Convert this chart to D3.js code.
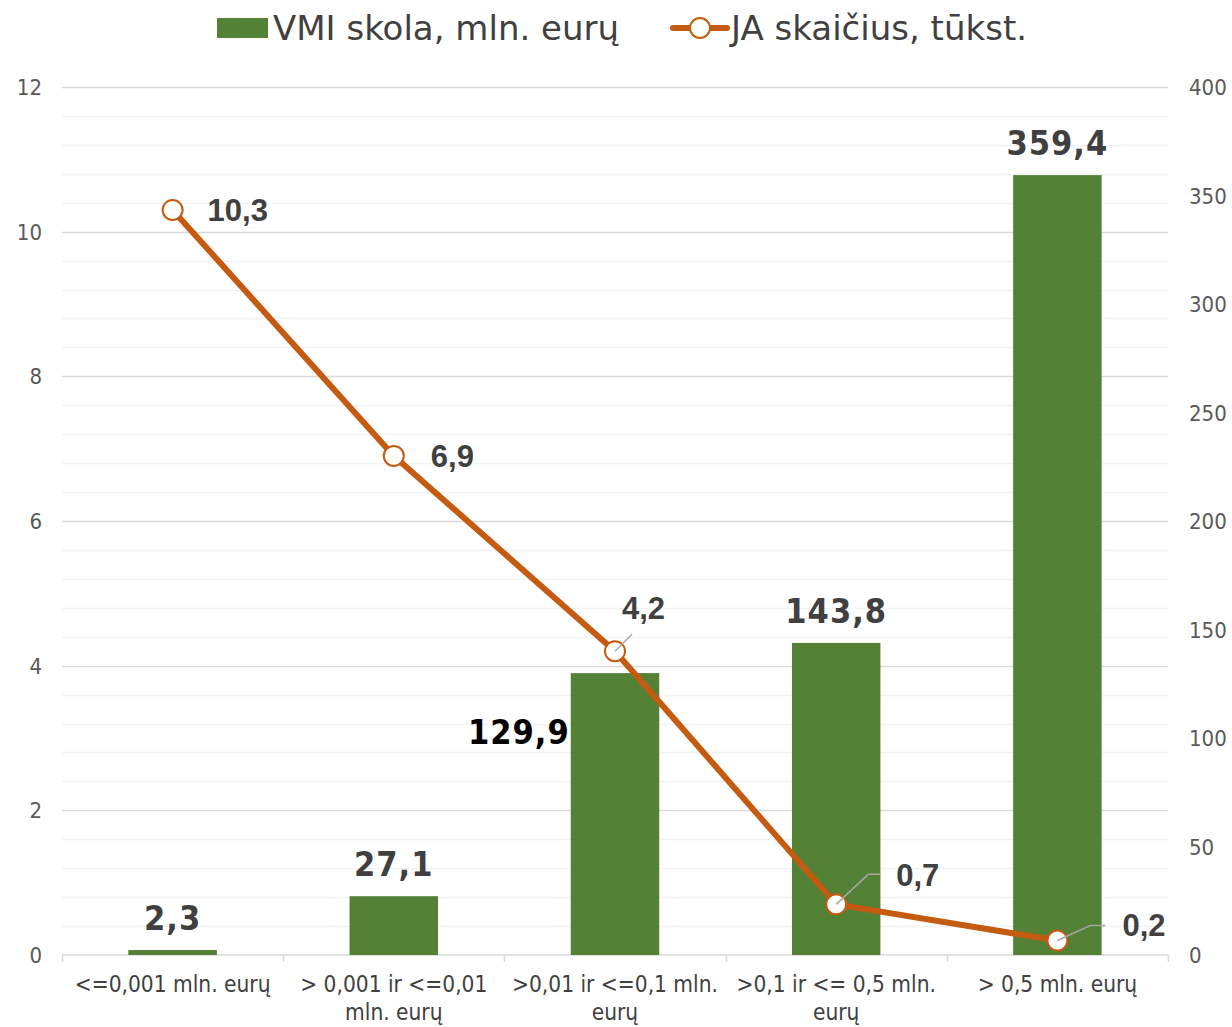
<!DOCTYPE html>
<html lang="lt">
<head>
    <meta charset="UTF-8">
    <title>VMI skola ir JA skaičius</title>
    <style>
        body {
            margin: 0;
            background-color: #FFFFFF;
        }
        svg text {
            font-family: "DejaVu Sans Condensed", "DejaVu Sans", sans-serif;
        }
        svg text.legend-text {
            font-family: "DejaVu Sans", sans-serif;
        }
        svg text.line-label {
            font-family: "Liberation Sans", Arial, sans-serif;
        }
    </style>
</head>
<body>
    <div id="chart"></div>

    <script src="https://d3js.org/d3.v7.min.js"></script>
    <script>
        // Data
        const categories = [
            "<=0,001 mln. eurų",
            "> 0,001 ir <=0,01 mln. eurų",
            ">0,01 ir <=0,1 mln. eurų",
            ">0,1 ir <= 0,5 mln. eurų",
            "> 0,5 mln. eurų"
        ];
        const debtValues = [2.3, 27.1, 129.9, 143.8, 359.4];   // VMI skola, mln. eurų (right axis)
        const countValues = [10.3, 6.9, 4.2, 0.7, 0.2];        // JA skaičius, tūkst. (left axis)
        const leftTicks = [0, 2, 4, 6, 8, 10, 12];
        const rightTicks = [0, 50, 100, 150, 200, 250, 300, 350, 400];
        const seriesNames = ["VMI skola, mln. eurų", "JA skaičius, tūkst."];

        const width = 1232;
        const height = 1027;
        const margin = { top: 87, right: 64, bottom: 72, left: 62 };
        const barColor = "#538135";
        const lineColor = "#C55A11";
        const fmt = d => String(d).replace(".", ",");

        const svg = d3.select("#chart")
            .append("svg")
            .attr("width", width)
            .attr("height", height);

        const x = d3.scaleBand()
            .domain(categories)
            .range([margin.left, width - margin.right]);

        const yLeft = d3.scaleLinear()
            .domain([0, 12])
            .range([height - margin.bottom, margin.top]);

        const yRight = d3.scaleLinear()
            .domain([0, 400])
            .range([height - margin.bottom, margin.top]);

        // Minor gridlines (every 0.4 on left axis)
        const minorTicks = d3.range(0, 12.0001, 0.4).filter(v => Math.abs(v / 2 - Math.round(v / 2)) > 0.01);
        svg.append("g")
            .selectAll("line")
            .data(minorTicks)
            .join("line")
            .attr("x1", margin.left)
            .attr("x2", width - margin.right)
            .attr("y1", d => Math.round(yLeft(d)) + 0.5)
            .attr("y2", d => Math.round(yLeft(d)) + 0.5)
            .attr("stroke", "#F2F2F2")
            .attr("stroke-width", 1.5);

        // Major gridlines
        svg.append("g")
            .selectAll("line")
            .data(leftTicks.filter(d => d > 0))
            .join("line")
            .attr("x1", margin.left)
            .attr("x2", width - margin.right)
            .attr("y1", d => Math.round(yLeft(d)) + 0.5)
            .attr("y2", d => Math.round(yLeft(d)) + 0.5)
            .attr("stroke", "#D9D9D9")
            .attr("stroke-width", 1.5);

        // Left axis labels
        svg.append("g")
            .selectAll("text")
            .data(leftTicks)
            .join("text")
            .attr("x", 42)
            .attr("y", d => yLeft(d) + 8)
            .attr("text-anchor", "end")
            .attr("font-size", "22px")
            .attr("fill", "#595959")
            .text(d => d);

        // Right axis labels
        svg.append("g")
            .selectAll("text")
            .data(rightTicks)
            .join("text")
            .attr("x", 1189)
            .attr("y", d => yRight(d) + 8)
            .attr("text-anchor", "start")
            .attr("font-size", "22px")
            .attr("fill", "#595959")
            .text(d => d);

        // Bottom axis
        const xAxis = svg.append("g")
            .attr("transform", `translate(0,${height - margin.bottom})`);
        xAxis.append("line")
            .attr("x1", margin.left)
            .attr("x2", width - margin.right)
            .attr("stroke", "#D9D9D9")
            .attr("stroke-width", 1.5);
        const boundaries = categories.map(c => x(c)).concat([width - margin.right]);
        xAxis.selectAll(".tick-mark")
            .data(boundaries)
            .join("line")
            .attr("class", "tick-mark")
            .attr("x1", d => Math.round(d) + 0.5)
            .attr("x2", d => Math.round(d) + 0.5)
            .attr("y1", 0)
            .attr("y2", 7)
            .attr("stroke", "#D9D9D9")
            .attr("stroke-width", 1.5);

        // Category labels, wrapped
        const catLabels = xAxis.selectAll(".cat")
            .data(categories)
            .join("text")
            .attr("class", "cat")
            .attr("x", d => x(d) + x.bandwidth() / 2)
            .attr("y", 37)
            .attr("text-anchor", "middle")
            .attr("font-size", "22.5px")
            .attr("fill", "#404040");

        catLabels.each(function(d) {
            const text = d3.select(this);
            const words = d.split(" ");
            const maxWidth = x.bandwidth() - 8;
            let line = [];
            let tspan = text.append("tspan").attr("x", text.attr("x")).attr("dy", 0);
            words.forEach(w => {
                line.push(w);
                tspan.text(line.join(" "));
                if (tspan.node().getComputedTextLength() > maxWidth && line.length > 1) {
                    line.pop();
                    tspan.text(line.join(" "));
                    line = [w];
                    tspan = text.append("tspan").attr("x", text.attr("x")).attr("dy", 28).text(w);
                }
            });
        });

        // Bars
        const barWidth = x.bandwidth() * 0.4;
        svg.append("g")
            .selectAll("rect")
            .data(debtValues)
            .join("rect")
            .attr("x", (d, i) => x(categories[i]) + x.bandwidth() / 2 - barWidth / 2)
            .attr("y", d => yRight(d))
            .attr("width", barWidth)
            .attr("height", d => yRight(0) - yRight(d))
            .attr("fill", barColor);

        // Bar labels
        svg.append("g")
            .selectAll("text")
            .data(debtValues)
            .join("text")
            .attr("x", (d, i) => i === 2
                ? x(categories[i]) + x.bandwidth() / 2 - barWidth / 2 - 1
                : x(categories[i]) + x.bandwidth() / 2)
            .attr("y", (d, i) => i === 2 ? yRight(d) + 71 : yRight(d) - 20)
            .attr("text-anchor", (d, i) => i === 2 ? "end" : "middle")
            .attr("font-size", "34px")
            .attr("font-weight", "bold")
            .attr("letter-spacing", "1px")
            .attr("fill", (d, i) => i === 2 ? "#000000" : "#404040")
            .text(d => fmt(d));

        // Line
        const cx = (d, i) => x(categories[i]) + x.bandwidth() / 2;
        const line = d3.line()
            .x((d, i) => cx(d, i))
            .y(d => yLeft(d));

        svg.append("path")
            .datum(countValues)
            .attr("d", line)
            .attr("fill", "none")
            .attr("stroke", lineColor)
            .attr("stroke-width", 6)
            .attr("stroke-linejoin", "round");

        // Leader lines for small labels
        const leaders = [null, null, [[0, 0], [17, -17]], [[0, 0], [32, -30], [44, -30]], [[0, 0], [33, -15], [48, -15]]];

        // Markers
        svg.append("g")
            .selectAll("circle")
            .data(countValues)
            .join("circle")
            .attr("cx", cx)
            .attr("cy", d => yLeft(d))
            .attr("r", 10)
            .attr("fill", "#FFFFFF")
            .attr("stroke", lineColor)
            .attr("stroke-width", 2);

        svg.append("g")
            .selectAll("path")
            .data(countValues)
            .join("path")
            .attr("d", (d, i) => leaders[i]
                ? d3.line()(leaders[i].map(p => [cx(d, i) + p[0], yLeft(d) + p[1]]))
                : null)
            .attr("fill", "none")
            .attr("stroke", "#A6A6A6")
            .attr("stroke-width", 1.5);

        // Line labels
        const lineLabelPos = [[35, 11], [37, 11], [7, -32], [60, -18], [65, -5]];
        svg.append("g")
            .selectAll("text")
            .data(countValues)
            .join("text")
            .attr("class", "line-label")
            .attr("x", (d, i) => cx(d, i) + lineLabelPos[i][0])
            .attr("y", (d, i) => yLeft(d) + lineLabelPos[i][1])
            .attr("font-size", "31px")
            .attr("font-weight", "bold")
            .attr("fill", "#404040")
            .text(d => fmt(d));

        // Legend
        const legend = svg.append("g");
        legend.append("rect")
            .attr("x", 217)
            .attr("y", 18)
            .attr("width", 51)
            .attr("height", 20)
            .attr("fill", barColor);
        legend.append("text")
            .attr("class", "legend-text")
            .attr("x", 273)
            .attr("y", 40)
            .attr("font-size", "34px")
            .attr("fill", "#404040")
            .text(seriesNames[0]);
        legend.append("line")
            .attr("x1", 673)
            .attr("x2", 727)
            .attr("y1", 28)
            .attr("y2", 28)
            .attr("stroke", lineColor)
            .attr("stroke-width", 6)
            .attr("stroke-linecap", "round");
        legend.append("circle")
            .attr("cx", 700)
            .attr("cy", 28)
            .attr("r", 10)
            .attr("fill", "#FFFFFF")
            .attr("stroke", lineColor)
            .attr("stroke-width", 2);
        legend.append("text")
            .attr("class", "legend-text")
            .attr("x", 731)
            .attr("y", 40)
            .attr("font-size", "34px")
            .attr("fill", "#404040")
            .text(seriesNames[1]);
    </script>
</body>
</html>
